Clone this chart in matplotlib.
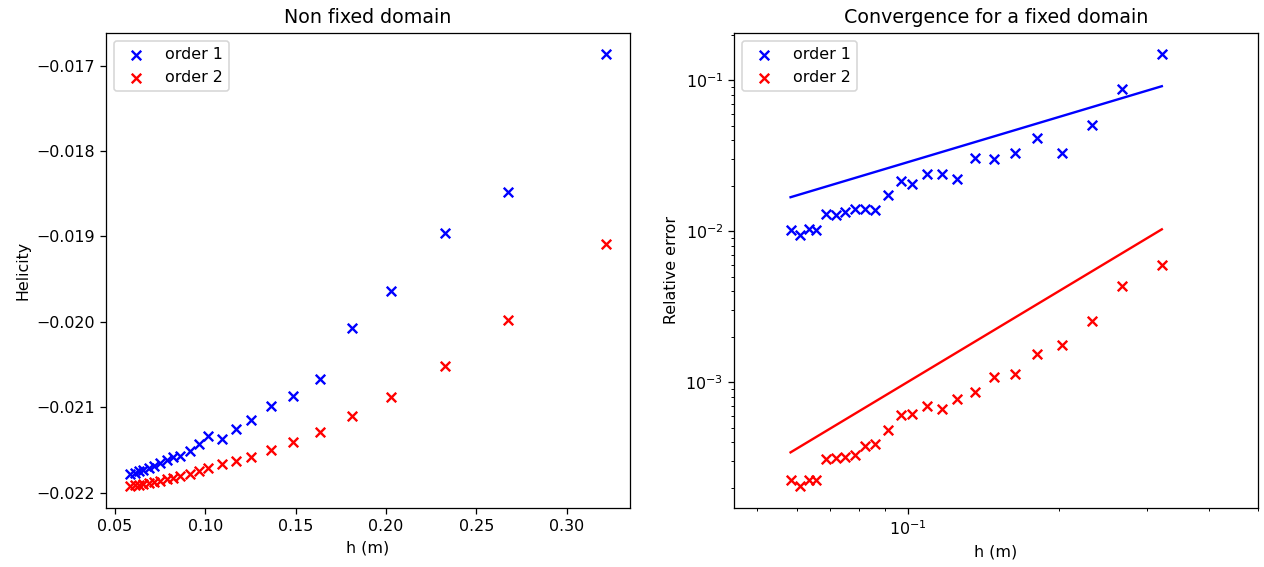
import matplotlib
matplotlib.use("Agg")
import matplotlib.pyplot as plt

# mesh sizes
h = [0.0583, 0.0610, 0.0634, 0.0655, 0.0686, 0.0717, 0.0748, 0.0786,
     0.0820, 0.0859, 0.0913, 0.0967, 0.1017, 0.1093, 0.1171, 0.1252,
     0.1363, 0.1488, 0.1634, 0.1811, 0.2030, 0.2329, 0.2676, 0.3217]

# helicity, non fixed domain
hel1 = [-0.021778, -0.021766, -0.021749, -0.021731, -0.021708, -0.021685,
        -0.021650, -0.021614, -0.021574, -0.021568, -0.021509, -0.021428,
        -0.021334, -0.021369, -0.021247, -0.021147, -0.020984, -0.020867,
        -0.020668, -0.020072, -0.019640, -0.018963, -0.018484, -0.016871]
hel2 = [-0.021924, -0.021912, -0.021907, -0.021895, -0.021883, -0.021871,
        -0.021860, -0.021842, -0.021825, -0.021807, -0.021778, -0.021743,
        -0.021714, -0.021667, -0.021626, -0.021585, -0.021492, -0.021404,
        -0.021282, -0.021100, -0.020873, -0.020516, -0.019979, -0.019091]

# relative error, fixed domain
err1 = [0.01016, 0.00942, 0.01042, 0.01027, 0.01297, 0.01277, 0.01343, 0.01414,
        0.01414, 0.01392, 0.01731, 0.02153, 0.02046, 0.02409, 0.02409, 0.02233,
        0.03076, 0.03027, 0.03272, 0.04113, 0.03272, 0.05035, 0.08677, 0.1479]
err2 = [2.244e-4, 2.047e-4, 2.27e-4, 2.244e-4, 3.13e-4, 3.17e-4, 3.20e-4, 3.33e-4,
        3.77e-4, 3.93e-4, 4.81e-4, 6.04e-4, 6.20e-4, 6.94e-4, 6.70e-4, 7.80e-4,
        8.63e-4, 1.084e-3, 1.142e-3, 1.549e-3, 1.758e-3, 2.535e-3, 4.325e-3, 6.01e-3]

# reference slope lines (endpoints at h[0] and h[-1])
ref_h = [h[0], h[-1]]
ref1 = [0.0168, 0.0912]
ref2 = [3.44e-4, 0.0103]

dpi = 114
fig, (ax1, ax2) = plt.subplots(1, 2, figsize=(1264 / dpi, 567 / dpi), dpi=dpi)
plt.subplots_adjust(left=0.084, right=0.995, top=0.942, bottom=0.104, wspace=0.2)

ax1.scatter(h, hel1, marker="x", color="blue", label="order 1")
ax1.scatter(h, hel2, marker="x", color="red", label="order 2")
ax1.set_title("Non fixed domain")
ax1.set_xlabel("h (m)")
ax1.set_ylabel("Helicity")
ax1.legend(loc="upper left")

ax2.scatter(h, err1, marker="x", color="blue", label="order 1")
ax2.scatter(h, err2, marker="x", color="red", label="order 2")
ax2.plot(ref_h, ref1, color="blue")
ax2.plot(ref_h, ref2, color="red")
ax2.set_xscale("log")
ax2.set_yscale("log")
ax2.set_xlim(0.045, 0.5)
ax2.set_title("Convergence for a fixed domain")
ax2.set_xlabel("h (m)")
ax2.set_ylabel("Relative error")
ax2.legend(loc="upper left")

plt.savefig("out.png", dpi=dpi)
